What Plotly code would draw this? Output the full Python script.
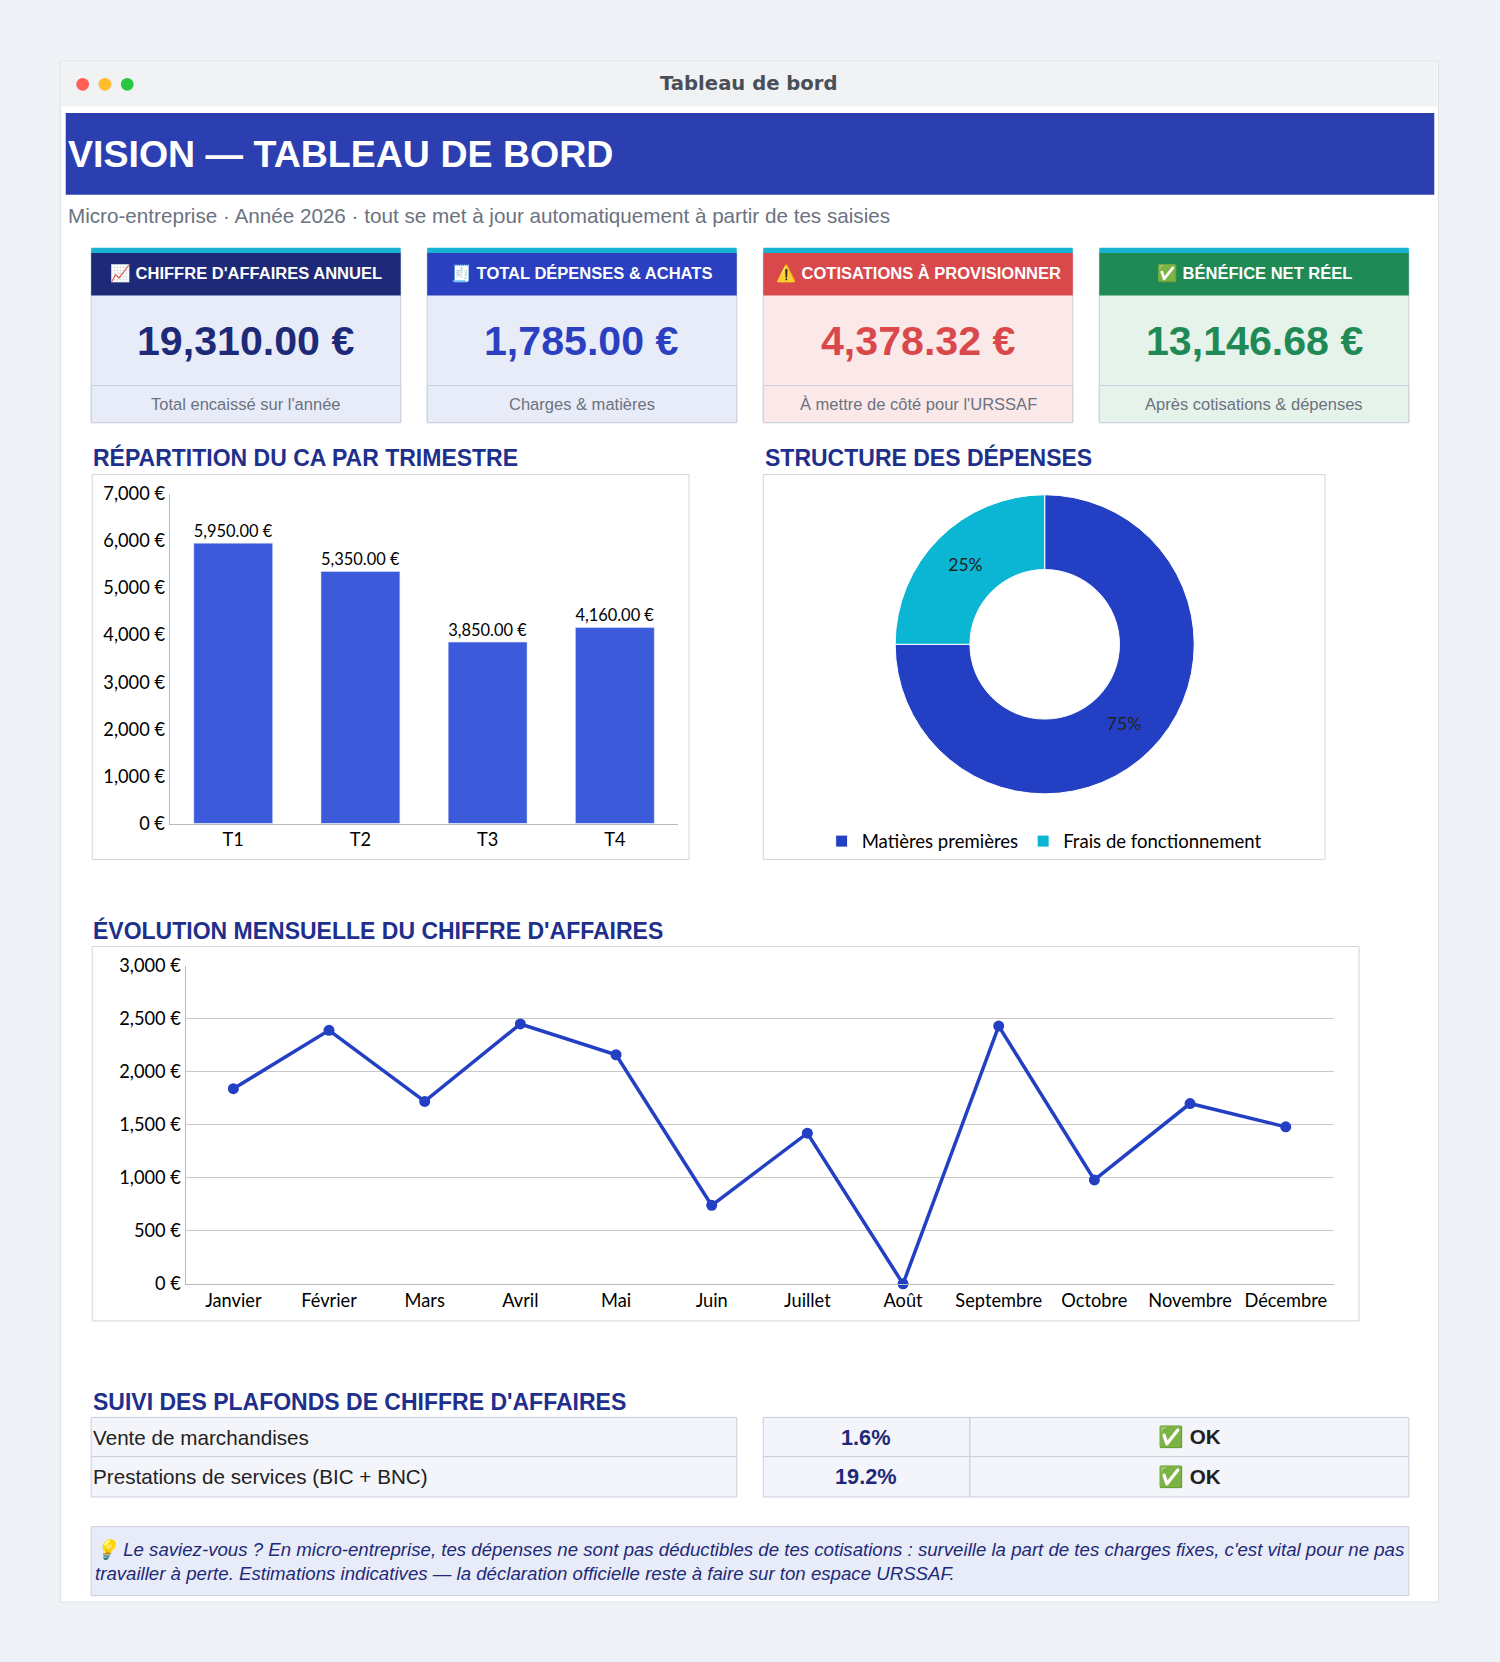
import plotly.graph_objects as go

# data
trimestres = ["T1", "T2", "T3", "T4"]
ca_trimestre = [5950, 5350, 3850, 4160]
mois = ["Janvier", "Février", "Mars", "Avril", "Mai", "Juin", "Juillet", "Août",
        "Septembre", "Octobre", "Novembre", "Décembre"]
ca_mensuel = [1840, 2390, 1720, 2450, 2160, 740, 1420, 0, 2430, 980, 1700, 1480]
depenses_labels = ["Matières premières", "Frais de fonctionnement"]
depenses_parts = [75, 25]
kpi_titles = ["📈 CHIFFRE D'AFFAIRES ANNUEL", "🧾 TOTAL DÉPENSES & ACHATS",
              "⚠️ COTISATIONS À PROVISIONNER", "✅ BÉNÉFICE NET RÉEL"]
kpi_values = ["19,310.00 €", "1,785.00 €", "4,378.32 €", "13,146.68 €"]
kpi_notes = ["Total encaissé sur l'année", "Charges & matières",
             "À mettre de côté pour l'URSSAF", "Après cotisations & dépenses"]
plafond_labels = ["Vente de marchandises", "Prestations de services (BIC + BNC)"]
plafond_pct = ["1.6%", "19.2%"]
plafond_status = ["✅ OK", "✅ OK"]

W, H = 1415.0, 1568.0
S = 1500 / W
def X(x): return x / W
def Y(y): return 1 - ((y - 10.8) / 0.9862) / H

FONT = "Liberation Sans, Arial"
CF = "Lato"
NAVY = "#1e2a78"
shapes, ann = [], []

def rect(x0, y0, x1, y1, fill, line=None, lw=1):
    shapes.append(dict(type="rect", xref="paper", yref="paper", x0=X(x0), x1=X(x1),
                       y0=Y(y1), y1=Y(y0), fillcolor=fill, layer="below",
                       line=dict(color=line or fill, width=lw if line else 0)))

def txt(x, y, t, size, color, bold=False, anchor="left", italic=False, font=FONT):
    if bold: t = "<b>" + t + "</b>"
    if italic: t = "<i>" + t + "</i>"
    ann.append(dict(xref="paper", yref="paper", x=X(x), y=Y(y), text=t, showarrow=False,
                    xanchor=anchor, yanchor="middle", align=anchor,
                    font=dict(size=size * S, color=color, family=font)))

# window
rect(57, 57, 1357, 1510, "white", "#dde1e6")
rect(58, 58, 1356, 100, "#f1f2f4")
for cx, c in [(78, "#fe5f57"), (99, "#febc2e"), (120, "#28c840")]:
    shapes.append(dict(type="circle", xref="paper", yref="paper", x0=X(cx - 6), x1=X(cx + 6),
                       y0=Y(79 + 6), y1=Y(79 - 6), fillcolor=c, line=dict(width=0)))
txt(707, 78, "Tableau de bord", 18.5, "#4a4f57", True, "center", font="DejaVu Sans")
rect(62, 106, 1353, 183, "#2c3fb1")
txt(62, 145, "VISION — TABLEAU DE BORD", 35.4, "white", True)
txt(62, 203, "Micro-entreprise · Année 2026 · tout se met à jour automatiquement à partir de tes saisies",
    19.5, "#6b7280")

# KPI cards
xs = [(86, 378), (403, 695), (720, 1012), (1037, 1329)]
heads = [NAVY, "#2a40c0", "#d9484a", "#1f8a55"]
bodies = ["#e8ecf8", "#e8ecf8", "#fbe9e9", "#e6f3ea"]
vals_c = [NAVY, "#2a40c0", "#d9484a", "#1f8a55"]
for i, (a, b) in enumerate(xs):
    rect(a, 237, b, 398, bodies[i], "#c9cfdc")
    rect(a, 363, b, 398, bodies[i], "#c9cfdc")
    rect(a, 233, b, 238, "#17b3d0")
    rect(a, 238, b, 278, heads[i])
    txt((a + b) / 2, 257, kpi_titles[i], 15.6, "white", True, "center")
    txt((a + b) / 2, 321, kpi_values[i], 38.8, vals_c[i], True, "center")
    txt((a + b) / 2, 381, kpi_notes[i], 15.6, "#6b7280", False, "center")

# section titles
TC = "#1e2f8c"
txt(86, 431, "RÉPARTITION DU CA PAR TRIMESTRE", 21.7, TC, True)
txt(720, 431, "STRUCTURE DES DÉPENSES", 21.7, TC, True)
txt(86, 877, "ÉVOLUTION MENSUELLE DU CHIFFRE D'AFFAIRES", 21.7, TC, True)
txt(86, 1321, "SUIVI DES PLAFONDS DE CHIFFRE D'AFFAIRES", 21.7, TC, True)

# chart boxes
rect(87, 447, 650, 810, "white", "#d0d4dc")
rect(720, 447, 1250, 810, "white", "#d0d4dc")
rect(87, 892, 1282, 1245, "white", "#d0d4dc")

fig = go.Figure()
fig.add_trace(go.Bar(x=trimestres, y=ca_trimestre, marker_color="#3b5bdb", width=0.62,
                     text=[f"{v:,.2f} €" for v in ca_trimestre], textposition="outside",
                     textfont=dict(family=CF, size=17.2 * S, color="black"), showlegend=False,
                     cliponaxis=False, xaxis="x", yaxis="y"))
fig.add_trace(go.Pie(labels=depenses_labels, values=depenses_parts, hole=0.5, sort=False,
                     direction="clockwise", rotation=0,
                     marker=dict(colors=["#2340c4", "#0bb5d4"], line=dict(color="white", width=1)),
                     textinfo="percent", textposition="inside",
                     textfont=dict(family=CF, size=16.5 * S, color="#222"),
                     domain=dict(x=[X(844), X(1127)], y=[Y(748), Y(466)])))
fig.add_trace(go.Scatter(x=mois, y=ca_mensuel, mode="lines+markers",
                         line=dict(color="#2340c4", width=3.5), marker=dict(size=11),
                         showlegend=False, cliponaxis=False, xaxis="x2", yaxis="y2"))

# table
for r, (y0, y1) in enumerate([(1336, 1373), (1373, 1411)]):
    rect(86, y0, 695, y1, "#f3f5fa", "#c9cfdc")
    rect(720, y0, 915, y1, "#f3f5fa", "#c9cfdc")
    rect(915, y0, 1329, y1, "#f3f5fa", "#c9cfdc")
    ym = (y0 + y1) / 2
    txt(86, ym, plafond_labels[r], 19.5, "#222")
    txt(817, ym, plafond_pct[r], 20.5, NAVY, True, "center")
    txt(1122, ym, plafond_status[r], 19.5, "#222", True, "center")

# note
rect(86, 1439, 1329, 1504, "#e8ecf8", "#c9cfdc")
txt(88, 1472, "💡 Le saviez-vous ? En micro-entreprise, tes dépenses ne sont pas déductibles de tes cotisations : "
    "surveille la part de tes charges fixes, c'est vital pour ne pas<br>travailler à perte. Estimations "
    "indicatives — la déclaration officielle reste à faire sur ton espace URSSAF.",
    17.6, NAVY, italic=True)

axfont = dict(family=CF, size=17.2 * S, color="black")
fig.update_layout(
    width=1500, height=1662, margin=dict(l=0, r=0, t=0, b=0),
    paper_bgcolor="#eef1f5", plot_bgcolor="rgba(0,0,0,0)",
    shapes=shapes, annotations=ann, bargap=0.38,
    showlegend=True,
    legend=dict(orientation="h", x=X(985), xanchor="center", y=Y(793), yanchor="middle",
                itemwidth=30, font=dict(family=CF, size=17.5 * S, color="black"),
                bgcolor="rgba(0,0,0,0)"),
    xaxis=dict(domain=[X(160), X(640)], anchor="y", showline=True, linecolor="#bbb",
               tickfont=axfont, ticks=""),
    yaxis=dict(domain=[Y(776), Y(465)], anchor="x", range=[0, 7000], dtick=1000,
               tickformat=",", ticksuffix=" €", showgrid=False, showline=True, linecolor="#bbb",
               tickfont=axfont, zeroline=False),
    xaxis2=dict(domain=[X(175), X(1258)], anchor="y2", showline=True, linecolor="#bbb",
                tickfont=axfont, range=[-0.5, 11.5]),
    yaxis2=dict(domain=[Y(1210), Y(910)], anchor="x2", range=[0, 3000], dtick=500,
                tickformat=",", ticksuffix=" €", gridcolor="#c8c8c8", showline=True,
                linecolor="#bbb", tickfont=axfont, zeroline=False),
)
fig.write_html("out.html", config={"displayModeBar": False},
               post_script="document.body.style.margin='0';document.body.style.background='#eef1f5';")
